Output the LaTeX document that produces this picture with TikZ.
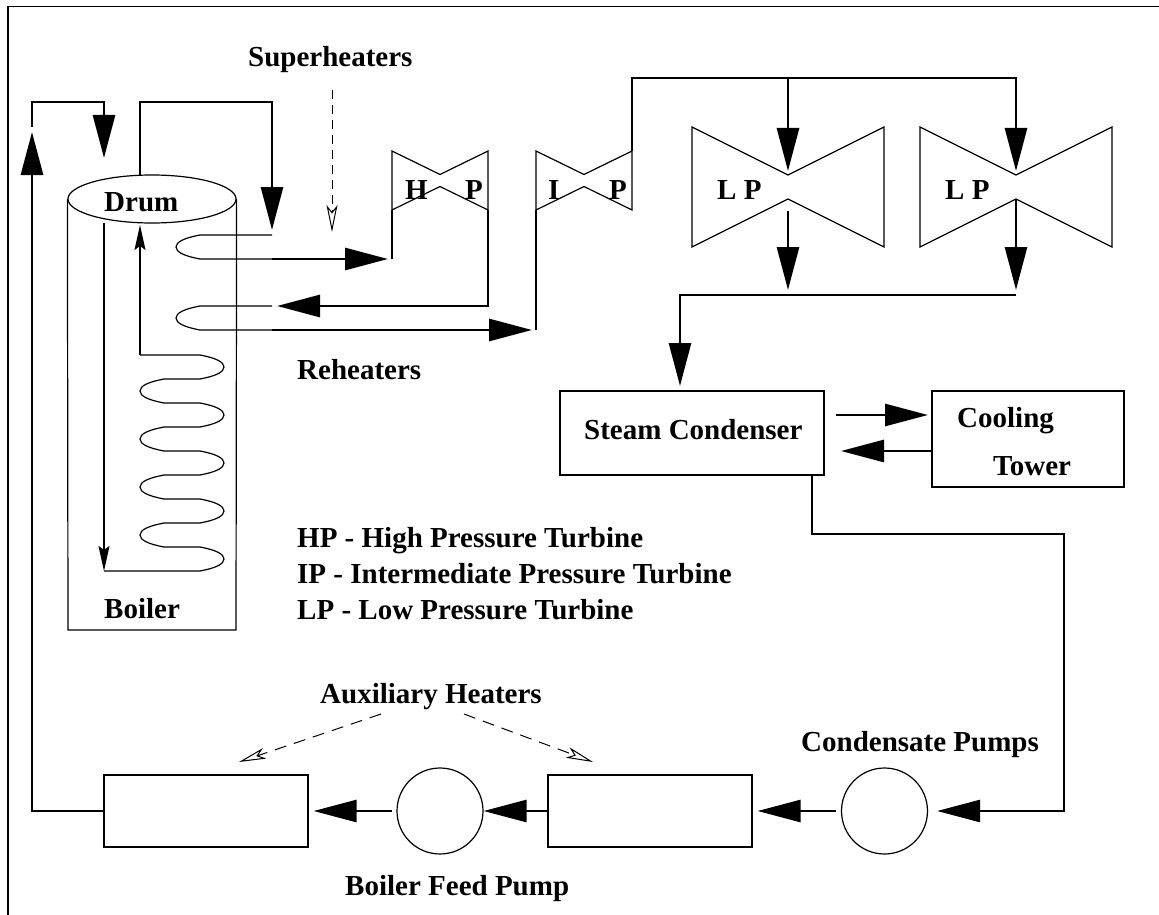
\documentclass[tikz,border=0pt]{standalone}
\usepackage{fontspec}
\setmainfont{Liberation Serif}
\usetikzlibrary{arrows.meta, positioning, shapes.geometric}

\newcommand{\bendr}{.. controls +(16,3) and +(0,-5) .. ++(24,12) .. controls +(0,5) and +(16,-3) .. ++(-24,12)}
\newcommand{\bendl}{.. controls +(-16,3) and +(0,-5) .. ++(-24,12) .. controls +(0,5) and +(-16,-3) .. ++(24,12)}

\tikzset{
  pipe/.style = {line width=1.2pt},
  heavy/.style = {line width=2.8pt},
  flow/.style = {heavy, -{Triangle[length=43pt, width=22pt]}},
  coilflow/.style = {pipe, -{Stealth[length=25pt, width=11pt, inset=4pt]}},
  hint/.style = {line width=1pt, dash pattern=on 9pt off 6pt,
    -{Stealth[open, fill=white, length=27pt, width=11pt, inset=7pt]}},
  unit/.style = {draw, pipe, inner sep=0pt, minimum width=204pt, minimum height=72pt},
  pump/.style = {draw, pipe, circle, inner sep=0pt, minimum size=86pt},
  lbl/.style = {anchor=base west, inner sep=0pt, font=\fontsize{29}{34}\selectfont\bfseries},
  pics/turbine/.style n args = {3}{code = {
    \draw[pipe] (-#1,-#2) coordinate (-nw) -- (0,-#3) coordinate (-top)
      -- (#1,-#2) coordinate (-ne) -- (#1,#2) coordinate (-se)
      -- (0,#3) coordinate (-bot) -- (-#1,#2) coordinate (-sw) -- cycle;
  }},
}

\begin{document}
\begin{tikzpicture}[x=1pt, y=-1pt, on grid]
  \useasboundingbox (0,0) rectangle (1159,915);

  \coordinate (framebl) at (8,915);
  \coordinate (frametl) at (8,6.5);
  \coordinate (frametr) at (1159,6.5);
  \draw[pipe] (framebl) -- (frametl) -- (frametr);

  \node[pump] (feedpump) at (440,811) {};
  \node[unit] (heaterR) [right=210pt of feedpump] {};
  \node[unit] (heaterL) [left=234pt of feedpump] {};
  \node[pump] (condpump) [right=234.5pt of heaterR] {};

  \node[draw, pipe, ellipse, inner sep=0pt, minimum width=168pt, minimum height=48pt] (drum) at (152,199) {};
  \coordinate (boilerbl) at (68,630);
  \coordinate (boilerbr) at (236,630);
  \draw[pipe] (drum.west) -- (boilerbl) -- (boilerbr) -- (drum.east);

  \pic (hp) at (440,180.5) {turbine={48}{29.5}{6}};
  \pic (ip) at (584,180.5) {turbine={48}{29.5}{6}};
  \pic (lpa) at (788,187) {turbine={96}{60}{12}};
  \pic (lpb) at (1016,187) {turbine={96}{60}{12}};

  \node[draw, pipe, inner sep=0pt, minimum width=264pt, minimum height=84pt] (condenser) at (692,433) {};
  \node[draw, pipe, inner sep=0pt, minimum width=192pt, minimum height=96pt] (tower) [right=336pt of condenser, yshift=-6pt] {};

  \node[lbl] (superlbl) at (248,67) {Superheaters};
  \node[lbl] (drumlbl) at (104,211) {Drum};
  \node[lbl] (boilerlbl) at (104,618) {Boiler};
  \node[lbl] (reheatlbl) at (297,379) {Reheaters};
  \node[lbl] (hlbl) at (405,199) {H};
  \node[lbl] (hplbl) at (465,199) {P};
  \node[lbl] (ilbl) at (548,199) {I};
  \node[lbl] (iplbl) at (609,199) {P};
  \node[lbl] (lpalbl) at (717,199) {L P};
  \node[lbl] (lpblbl) at (945,199) {L P};
  \node[lbl] (condlbl) at (584,439) {Steam Condenser};
  \node[lbl] (coolbl) at (957,427) {Cooling};
  \node[lbl] (towlbl) at (993,475) {Tower};
  \node[lbl] (keyhp) at (297,547) {HP - High Pressure Turbine};
  \node[lbl] (keyip) at (297,583) {IP - Intermediate Pressure Turbine};
  \node[lbl] (keylp) at (297,619) {LP - Low Pressure Turbine};
  \node[lbl] (auxlbl) at (320,703) {Auxiliary Heaters};
  \node[lbl] (feedlbl) at (345,895) {Boiler Feed Pump};
  \node[lbl] (pumplbl) at (801,751) {Condensate Pumps};

  \coordinate (riser) at (32,132);
  \coordinate (riserbreak) at (32,127);
  \coordinate (riserbend) at (32,102);
  \coordinate (drumfeed) at (104,158);
  \coordinate (drumtop) at (140,175);
  \coordinate (drumbend) at (140,102);
  \coordinate (drumout) at (104,223);
  \coordinate (drumin) at (140,225);

  \coordinate (shin) at (272,235);
  \coordinate (shout) at (272,259);
  \coordinate (hpfoot) at (392,259);
  \coordinate (rhin) at (272,306);
  \coordinate (rhout) at (272,330);
  \coordinate (ipfoot) at (536,330);
  \coordinate (mainbend) at (632,78);
  \coordinate (taplpa) at (788,78);
  \coordinate (collecta) at (788,295);
  \coordinate (collectb) at (1016,295);
  \coordinate (condtop) at (680,391);
  \coordinate (condfwd) at (824,415);
  \coordinate (towfwd) at (932,415);
  \coordinate (towback) at (932,451);
  \coordinate (condback) at (824,451);
  \coordinate (condout) at (812,475);
  \coordinate (runbend) at (812,534);
  \coordinate (rundown) at (1064,534);
  \coordinate (runlow) at (1064,811);

  \coordinate (coilin) at (140,355);
  \coordinate (coilout) at (104,571);

  \draw[flow] (heaterL.west) -| (riser);
  \draw[flow] (riserbreak) -- (riserbend) -| (drumfeed);
  \draw[flow, shorten >=5pt] (drumtop) -- (drumbend) -| (shin);
  \draw[pipe] (shin) -- (200,235) \bendl -- (shout);
  \draw[flow, shorten >=4pt] (shout) -- (hpfoot);
  \draw[heavy] (hpfoot) -- (hp-sw);
  \draw[flow, shorten >=5pt] (hp-se) |- (rhin);
  \draw[pipe] (rhin) -- (200,306) \bendl -- (rhout);
  \draw[flow, shorten >=4pt] (rhout) -- (ipfoot);
  \draw[heavy] (ipfoot) -- (ip-sw);
  \draw[flow, shorten >=4pt] (ip-ne) -- (mainbend) -| (lpb-top);
  \draw[flow, shorten <=12pt, shorten >=5pt] (lpa-bot) -- (collecta);
  \draw[flow, shorten >=5pt] (lpb-bot) -- (collectb);
  \draw[flow, shorten >=5pt] (collectb) -| (condtop);
  \draw[flow, shorten >=4pt] (taplpa) -- (lpa-top);
  \draw[flow, shorten <=12pt, shorten >=4pt] (condfwd) -- (towfwd);
  \draw[flow, shorten >=17pt] (towback) -- (condback);
  \draw[flow, shorten >=9pt] (condout) -- (runbend) -- (rundown) -- (runlow) -- (condpump.east);
  \path[flow]
    (condpump.west) edge [shorten <=5pt, shorten >=5pt] (heaterR.east)
    (heaterR.west) edge (feedpump.east)
    (feedpump.west) edge [shorten <=4pt, shorten >=5pt] (heaterL.east);

  \draw[coilflow] (drumout) -- (coilout);
  \draw[coilflow] (coilin) -- (drumin);
  \draw[pipe] (coilin) -- (200,355) \bendr -- ++(-36,0) \bendl -- ++(36,0) \bendr -- ++(-36,0) \bendl
    -- ++(36,0) \bendr -- ++(-36,0) \bendl -- ++(36,0) \bendr -- ++(-36,0) \bendl -- ++(36,0) \bendr -- (coilout);

  \coordinate (superfrom) at (332,90);
  \coordinate (superto) at (332,232);
  \coordinate (auxfroml) at (381,714);
  \coordinate (auxtol) at (239,762);
  \coordinate (auxfromr) at (464,714);
  \coordinate (auxtor) at (593,762);
  \draw[hint] (superfrom) -- (superto);
  \draw[hint, dash pattern=on 12pt off 8pt] (auxfroml) -- (auxtol);
  \draw[hint, dash pattern=on 12pt off 8pt] (auxfromr) -- (auxtor);
\end{tikzpicture}
\end{document}
